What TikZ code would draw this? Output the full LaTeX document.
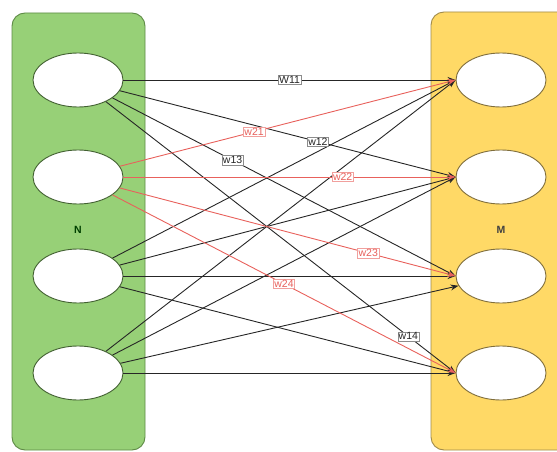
\documentclass[tikz,border=0pt]{standalone}
\usepackage{fontspec}
\setmainfont{Liberation Sans}
\usetikzlibrary{arrows.meta,shapes.geometric}
\definecolor{grpgreen}{HTML}{97D077}
\definecolor{grpgreenline}{HTML}{5E8A46}
\definecolor{grpyellow}{HTML}{FFD966}
\definecolor{grpyellowline}{HTML}{A08A4A}
\definecolor{wred}{HTML}{E8615C}
\tikzset{
  group/.style={rounded corners=13pt, line width=0.9pt},
  neuron/.style={ellipse, draw=#1, line width=0.9pt, fill=white,
    minimum width=90pt, minimum height=54pt, inner sep=0pt},
  link/.style={line width=0.9pt, draw=black!85,
    -{Stealth[length=8pt,width=6pt]}},
  redlink/.style={link, draw=wred},
  wlabel/.style={font=\fontsize{10.5}{12}\selectfont, fill=white, draw=black!45,
    line width=0.4pt, inner sep=1pt, text=black!85},
  rlabel/.style={wlabel, draw=wred!60, text=wred},
  grouptitle/.style={font=\fontsize{10.5}{12}\selectfont\bfseries}
}
\begin{document}
\begin{tikzpicture}[x=1pt, y=-1pt]
  \useasboundingbox (0,0) rectangle (557,452);
  % the two layers
  \draw[group, fill=grpgreen, draw=grpgreenline] (12,13) rectangle (145,450);
  \draw[group, fill=grpyellow, draw=grpyellowline] (431,12) rectangle (575,450);
  \node[grouptitle, text=green!25!black] (N) at (78,230) {N};
  \node[grouptitle, text=black!75] (M) at (501,230) {M};
  % input neurons
  \node[neuron=grpgreenline!70!black] (L1) at (78,80) {};
  \node[neuron=grpgreenline!70!black] (L2) at (78,177) {};
  \node[neuron=grpgreenline!70!black] (L3) at (78,276) {};
  \node[neuron=grpgreenline!70!black] (L4) at (78,373) {};
  % output neurons
  \node[neuron=grpyellowline!80!black] (R1) at (501,80) {};
  \node[neuron=grpyellowline!80!black] (R2) at (501,177) {};
  \node[neuron=grpyellowline!80!black] (R3) at (501,276) {};
  \node[neuron=grpyellowline!80!black] (R4) at (501,373) {};
  % connections from the third and fourth inputs
  \draw[link] (L3) -- (R1.west);
  \draw[link] (L3) -- (R2.west);
  \draw[link] (L3) -- (R3.west);
  \draw[link] (L3) -- (R4.west);
  \draw[link] (L4) -- (R1.west);
  \draw[link] (L4) -- (R2.west);
  \draw[link] (L4) -- (R3);
  \draw[link] (L4) -- (R4.west);
  % connections from the first input
  \draw[link] (L1) -- (R1.west) node[wlabel, pos=0.5] {W11};
  \draw[link] (L1) -- (R2.west) node[wlabel, pos=0.59] {w12};
  \draw[link] (L1) -- (R3.west) node[wlabel, pos=0.35] {w13};
  \draw[link] (L1) -- (R4.west) node[wlabel, pos=0.865] {w14};
  % connections from the second input
  \draw[redlink] (L2) -- (R1.west) node[rlabel, pos=0.4] {w21};
  \draw[redlink] (L2) -- (R2.west) node[rlabel, pos=0.66] {w22};
  \draw[redlink] (L2) -- (R3.west) node[rlabel, pos=0.74] {w23};
  \draw[redlink] (L2) -- (R4.west) node[rlabel, pos=0.5] {w24};
\end{tikzpicture}
\end{document}
